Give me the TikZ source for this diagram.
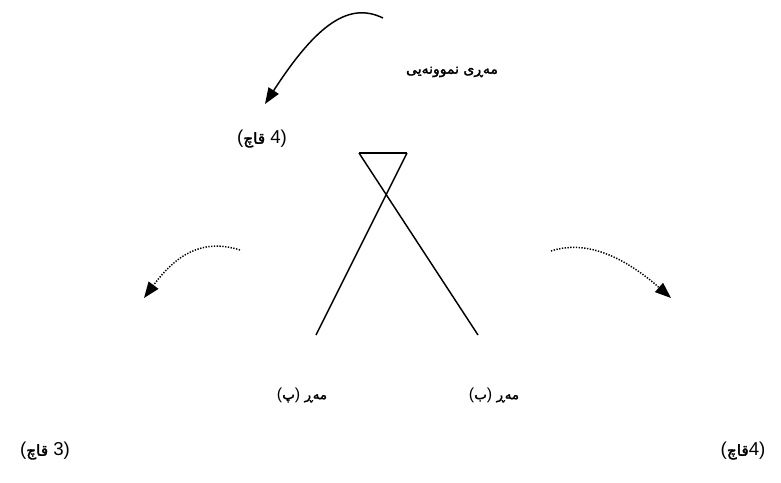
\documentclass[tikz,border=0pt]{standalone}
\usepackage{fontspec}
\newfontfamily\kurdfont[Script=Arabic,FakeBold=2]{DejaVu Sans}
\newfontfamily\numfont{Liberation Sans}
\TeXXeTstate=1
\usetikzlibrary{arrows.meta}
\newcommand{\kw}[1]{\hbox{\kurdfont\fontsize{10}{12}\selectfont #1}}
\newcommand{\nw}[1]{\hbox{\numfont\fontsize{12}{14}\selectfont #1}}
\newcommand{\kwb}[1]{\hbox{\kurdfont\fontsize{11.5}{14}\selectfont #1}}
\newcommand{\nwb}[1]{\hbox{\numfont\fontsize{14}{16}\selectfont #1}}

\begin{document}
\begin{tikzpicture}[x=0.75pt,y=-0.75pt,
    kurd/.style={inner sep=0pt},
    bigtip/.style={-{Triangle[length=12pt,width=9pt]}},
    dots/.style={dash pattern=on 1pt off 1.1pt, line width=1.1pt}]
        \useasboundingbox (0,0) rectangle (781,482);

        \coordinate (A) at (359,153);
        \coordinate (B) at (407,153);
        \coordinate (C) at (316,335);
        \coordinate (D) at (478,335);

        \draw[line width=1.1pt] (A) -- (B);
        \draw[line width=1.1pt] (A) -- (D);
        \draw[line width=1.1pt] (B) -- (C);

        % arrows
        \coordinate (T1) at (383,18);
        \coordinate (T2) at (265,104);
        \coordinate (L1) at (240,250);
        \coordinate (L2) at (144,298);
        \coordinate (R1) at (551,251);
        \coordinate (R2) at (671,298);

        \draw[bigtip, line width=1.1pt] (T1) .. controls (350,2) and (318,22) .. (T2);
        \draw[bigtip, dots] (L1) .. controls (202,238) and (176,255) .. (L2);
        \draw[bigtip, dots] (R1) .. controls (590,238) and (630,262) .. (R2);

        % labels
        \node[kurd] (model) at (452,72) {\kurdfont\fontsize{10.5}{12}\selectfont\beginR مەڕی نموونەیی\endR};
        \node[kurd] (legs4) at (262,139) {\nwb{(}\kwb{قاچ}\nwb{ 4)}};
        \node[kurd] (sheepP) at (302,395) {\nw{(}\kw{پ}\nw{) }\kw{مەڕ}};
        \node[kurd] (sheepB) at (494,395) {\nw{(}\kw{ب}\nw{) }\kw{مەڕ}};
        \node[kurd] (legs3) at (45,451) {\nwb{(}\kwb{قاچ}\nwb{ 3)}};
        \node[kurd] (legs4b) at (743,451) {\nwb{(}\kwb{قاچ}\nwb{4)}};
\end{tikzpicture}
\end{document}
